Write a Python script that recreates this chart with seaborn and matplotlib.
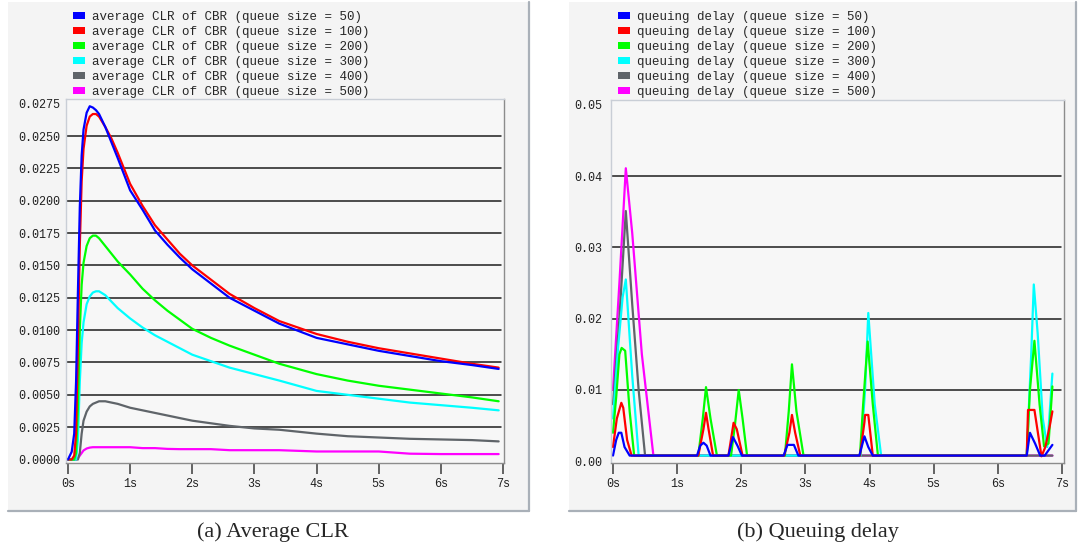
import pandas as pd
import seaborn as sns
import matplotlib.pyplot as plt
from matplotlib.patches import Patch, Rectangle
from matplotlib.lines import Line2D

queue_sizes = [50, 100, 200, 300, 400, 500]
colors = ['#0000ff', '#ff0000', '#00ff00', '#00ffff', '#5f6469', '#ff00ff']

# (a) average CLR, one time grid (s) for all queue sizes
clr_t = [0.0, 0.06, 0.1, 0.13, 0.16, 0.19, 0.22, 0.25, 0.3, 0.35, 0.4, 0.45, 0.5, 0.6, 0.7, 0.8,
         1.0, 1.2, 1.4, 1.6, 1.8, 2.0, 2.3, 2.6, 3.0, 3.4, 4.0, 4.5, 5.0, 5.5, 6.0, 6.5, 6.93]
clr_q50 = [0.0, 0.0006, 0.002, 0.006, 0.013, 0.0195, 0.0235, 0.0255, 0.0268, 0.0273, 0.0272, 0.0270,
           0.0267, 0.0257, 0.0245, 0.0233, 0.0208, 0.0193, 0.0177, 0.0166, 0.0156, 0.0147, 0.0136,
           0.0125, 0.0115, 0.0105, 0.0094, 0.0089, 0.0084, 0.0080, 0.0076, 0.0073, 0.0070]
clr_q100 = [0.0, 0.0, 0.0003, 0.002, 0.009, 0.0165, 0.0215, 0.0240, 0.0258, 0.0265, 0.0267, 0.0267,
            0.0265, 0.0257, 0.0248, 0.0237, 0.0213, 0.0196, 0.0181, 0.0170, 0.0159, 0.0150, 0.0139,
            0.0128, 0.0117, 0.0107, 0.0097, 0.0091, 0.0086, 0.0082, 0.0078, 0.0074, 0.0071]
clr_q200 = [0.0, 0.0, 0.0, 0.0005, 0.004, 0.010, 0.0135, 0.0152, 0.0165, 0.0171, 0.0173, 0.0173,
            0.0171, 0.0165, 0.0159, 0.0153, 0.0143, 0.0132, 0.0123, 0.0115, 0.0108, 0.0101, 0.0094,
            0.0088, 0.0081, 0.0074, 0.0066, 0.0061, 0.0057, 0.0054, 0.0051, 0.0048, 0.0045]
clr_q300 = [0.0, 0.0, 0.0, 0.0, 0.0015, 0.006, 0.009, 0.0106, 0.0120, 0.0126, 0.0129, 0.0130,
            0.0130, 0.0127, 0.0122, 0.0117, 0.0109, 0.0102, 0.0096, 0.0091, 0.0086, 0.0081, 0.0076,
            0.0071, 0.0066, 0.0061, 0.0053, 0.0050, 0.0047, 0.0044, 0.0042, 0.0040, 0.0038]
clr_q400 = [0.0, 0.0, 0.0, 0.0, 0.0, 0.0005, 0.002, 0.003, 0.0037, 0.0041, 0.0043, 0.0044,
            0.0045, 0.0045, 0.0044, 0.0043, 0.0040, 0.0038, 0.0036, 0.0034, 0.0032, 0.0030, 0.0028,
            0.0026, 0.0024, 0.0023, 0.0020, 0.0018, 0.0017, 0.0016, 0.00155, 0.0015, 0.0014]
clr_q500 = [0.0, 0.0, 0.0, 0.0, 0.0001, 0.0003, 0.0005, 0.0007, 0.00085, 0.00092, 0.00095, 0.00095,
            0.00095, 0.00095, 0.00095, 0.00095, 0.00095, 0.00088, 0.00088, 0.00082, 0.0008, 0.0008,
            0.0008, 0.00072, 0.00072, 0.00072, 0.00062, 0.00062, 0.00062, 0.00045, 0.00042, 0.00042,
            0.00042]

# (b) queuing delay, break points of each curve
dly_t50 = [0.0, 0.05, 0.09, 0.13, 0.18, 0.26, 1.31, 1.36, 1.41, 1.46, 1.52, 1.80, 1.87, 1.94, 2.01,
           2.66, 2.72, 2.82, 2.89, 3.84, 3.92, 3.98, 4.05, 6.45, 6.50, 6.58, 6.66, 6.73, 6.85]
dly_q50 = [0.0008, 0.003, 0.004, 0.004, 0.002, 0.0008, 0.0008, 0.0022, 0.0026, 0.0022, 0.0008,
           0.0008, 0.0034, 0.0022, 0.0008, 0.0008, 0.0023, 0.0023, 0.0008, 0.0008, 0.0035, 0.002,
           0.0008, 0.0008, 0.004, 0.0025, 0.0008, 0.0008, 0.0023]
dly_t100 = [0.0, 0.06, 0.13, 0.16, 0.22, 0.29, 1.33, 1.41, 1.45, 1.49, 1.56, 1.80, 1.88, 1.93, 2.02,
            2.67, 2.75, 2.79, 2.84, 2.92, 3.85, 3.92, 3.93, 3.98, 4.05, 6.45, 6.47, 6.57, 6.68, 6.74,
            6.81, 6.85]
dly_q100 = [0.002, 0.006, 0.0082, 0.0075, 0.003, 0.0008, 0.0008, 0.0045, 0.0068, 0.0045, 0.0008,
            0.0008, 0.0054, 0.0045, 0.0008, 0.0008, 0.004, 0.0065, 0.004, 0.0008, 0.0008, 0.0055,
            0.0065, 0.0065, 0.0008, 0.0008, 0.0072, 0.0072, 0.0007, 0.002, 0.005, 0.007]
dly_t200 = [0.0, 0.05, 0.10, 0.135, 0.19, 0.26, 0.33, 1.33, 1.40, 1.45, 1.52, 1.62, 1.84, 1.90, 1.96,
            2.02, 2.09, 2.68, 2.74, 2.79, 2.86, 2.97, 3.85, 3.90, 3.97, 4.05, 4.13, 6.45, 6.50, 6.57,
            6.65, 6.72, 6.79, 6.85]
dly_q200 = [0.004, 0.009, 0.015, 0.0159, 0.0155, 0.007, 0.0008, 0.0008, 0.006, 0.0104, 0.006, 0.0008,
            0.0008, 0.005, 0.010, 0.006, 0.0008, 0.0008, 0.007, 0.0136, 0.007, 0.0008, 0.0008, 0.008,
            0.0168, 0.008, 0.0008, 0.0008, 0.010, 0.0169, 0.008, 0.0021, 0.0025, 0.0105]
dly_t300 = [0.0, 0.08, 0.15, 0.20, 0.30, 0.40, 3.86, 3.93, 3.98, 4.08, 4.18, 6.45, 6.52, 6.56, 6.62,
            6.70, 6.77, 6.85]
dly_q300 = [0.006, 0.016, 0.023, 0.0255, 0.012, 0.0008, 0.0008, 0.010, 0.0208, 0.008, 0.0008, 0.0008,
            0.015, 0.0248, 0.018, 0.006, 0.002, 0.0123]
dly_t400 = [0.0, 0.10, 0.20, 0.30, 0.40, 0.50, 6.85]
dly_q400 = [0.008, 0.020, 0.0351, 0.022, 0.010, 0.0008, 0.0008]
dly_t500 = [0.0, 0.10, 0.20, 0.30, 0.45, 0.63, 6.85]
dly_q500 = [0.010, 0.025, 0.0411, 0.032, 0.015, 0.0008, 0.0008]

x_ticks = [0, 1, 2, 3, 4, 5, 6, 7]
x_labels = ['0s', '1s', '2s', '3s', '4s', '5s', '6s', '7s']
clr_yticks = [0.0, 0.0025, 0.005, 0.0075, 0.01, 0.0125, 0.015, 0.0175, 0.02, 0.0225, 0.025, 0.0275]
clr_ylabels = ['0.0000', '0.0025', '0.0050', '0.0075', '0.0100', '0.0125', '0.0150', '0.0175',
               '0.0200', '0.0225', '0.0250', '0.0275']
dly_yticks = [0.0, 0.01, 0.02, 0.03, 0.04, 0.05]
dly_ylabels = ['0.00', '0.01', '0.02', '0.03', '0.04', '0.05']


def long_form(times, values):
    frames = []
    for q, t, v in zip(queue_sizes, times, values):
        frames.append(pd.DataFrame({'t': t, 'v': v, 'queue': q}))
    return pd.concat(frames, ignore_index=True)


clr = long_form([clr_t] * 6, [clr_q50, clr_q100, clr_q200, clr_q300, clr_q400, clr_q500])
dly = long_form([dly_t50, dly_t100, dly_t200, dly_t300, dly_t400, dly_t500],
                [dly_q50, dly_q100, dly_q200, dly_q300, dly_q400, dly_q500])

sns.set_theme(style='white')
plt.rcParams['font.family'] = ['Liberation Mono', 'DejaVu Sans Mono']

W, H = 1080, 548
fig = plt.figure(figsize=(10.8, 5.48), dpi=100)
fig.patch.set_facecolor('white')

# grey applet panels with a darker right / bottom edge
for x0, x1 in [(8, 529), (569, 1076)]:
    fig.add_artist(Rectangle((x0 / W, 1 - 511 / H), (x1 - x0) / W, 509 / H,
                             transform=fig.transFigure, facecolor='#f4f4f4', edgecolor='none', zorder=0))
    fig.add_artist(Line2D([x1 / W, x1 / W], [1 - 511 / H, 1 - 2 / H], transform=fig.transFigure,
                          color='#a9b0b8', lw=1.6))
    fig.add_artist(Line2D([x0 / W, x1 / W], [1 - 511 / H, 1 - 511 / H], transform=fig.transFigure,
                          color='#a9b0b8', lw=1.6))

ax1 = fig.add_axes([66 / W, 1 - 463 / H, 438 / W, 364 / H])
ax2 = fig.add_axes([611 / W, 1 - 463 / H, 453 / W, 363 / H])

palette = dict(zip(queue_sizes, colors))
order = queue_sizes[::-1]
sns.lineplot(data=clr, x='t', y='v', hue='queue', hue_order=order, palette=palette,
             estimator=None, sort=False, legend=False, linewidth=1.6, ax=ax1)
sns.lineplot(data=dly, x='t', y='v', hue='queue', hue_order=order, palette=palette,
             estimator=None, sort=False, legend=False, linewidth=1.6, ax=ax2)


def style(ax, xlim, ylim, yticks, ylabels, ypad):
    ax.set_facecolor('#f7f7f7')
    ax.set_xlim(xlim)
    ax.set_ylim(ylim)
    ax.set_xticks(x_ticks)
    ax.set_xticklabels(x_labels)
    ax.set_yticks(yticks)
    ax.set_yticklabels(ylabels)
    ax.set_xlabel('')
    ax.set_ylabel('')
    ax.tick_params(axis='x', bottom=True, length=8, width=1.1, color='#3c3c3c', pad=2.5,
                   labelsize=8.5, labelcolor='#202020')
    ax.tick_params(axis='y', left=False, length=0, pad=ypad, labelsize=8.5, labelcolor='#202020')
    for g in yticks[1:-1]:
        ax.axhline(g, xmin=0, xmax=0.993, color='#1e1e1e', lw=1.1, zorder=1)
    for side in ['top', 'left']:
        ax.spines[side].set_color('#c9ced6')
        ax.spines[side].set_linewidth(1.0)
    for side in ['right', 'bottom']:
        ax.spines[side].set_color('#8c8c8c')
        ax.spines[side].set_linewidth(1.0)


style(ax1, (-0.032, 7.016), (-0.00027, 0.02786), clr_yticks, clr_ylabels, 4)
style(ax2, (-0.031, 7.031), (-0.00024, 0.05067), dly_yticks, dly_ylabels, 6)

handles = [Patch(facecolor=c, edgecolor='none') for c in colors]
clr_names = ['average CLR of CBR (queue size = %d)' % q for q in queue_sizes]
dly_names = ['queuing delay (queue size = %d)' % q for q in queue_sizes]
for ax, names, x_left in [(ax1, clr_names, 73), (ax2, dly_names, 618)]:
    ax.legend(handles, names, loc='upper left', bbox_to_anchor=(x_left / W, 1 - 11 / H),
              bbox_transform=fig.transFigure, frameon=False, fontsize=9, borderpad=0,
              borderaxespad=0, handlelength=0.95, handleheight=0.5, handletextpad=0.6,
              labelspacing=0.24)

fig.text(273 / W, 1 - 532 / H, '(a) Average CLR', ha='center', va='center',
         family='Liberation Serif', fontsize=16)
fig.text(818 / W, 1 - 532 / H, '(b) Queuing delay', ha='center', va='center',
         family='Liberation Serif', fontsize=16)

fig.savefig('out.png', dpi=100)
